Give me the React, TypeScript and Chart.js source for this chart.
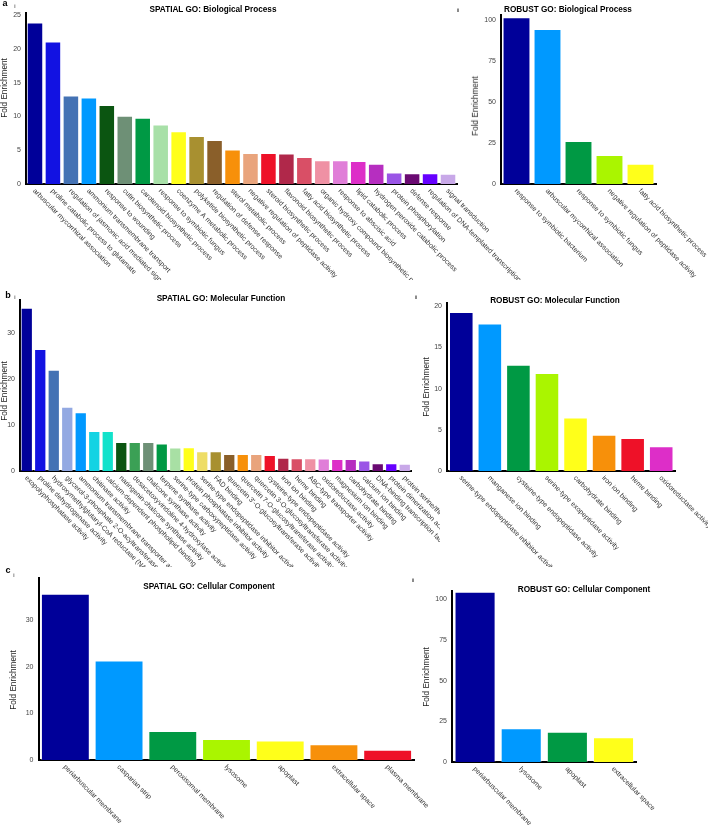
import React, { useEffect, useRef } from "react";
import { Chart, registerables } from "chart.js";
Chart.register(...registerables);

const FONT = "'Liberation Sans', Arial, Helvetica, sans-serif";

// ---------- a(i) SPATIAL GO: Biological Process ----------
const bpSpatialLabels = [
  "arbuscular mycorrhizal association",
  "proline catabolic process to glutamate",
  "regulation of jasmonic acid mediated signaling",
  "ammonium transmembrane transport",
  "response to wounding",
  "cutin biosynthetic process",
  "carotenoid biosynthetic process",
  "response to symbiotic fungus",
  "coenzyme A metabolic process",
  "polyketide biosynthetic process",
  "regulation of defense response",
  "sterol metabolic process",
  "negative regulation of peptidase activity",
  "steroid biosynthetic process",
  "flavonoid biosynthetic process",
  "fatty acid biosynthetic process",
  "organic hydroxy compound biosynthetic process",
  "response to abscisic acid",
  "lipid catabolic process",
  "hydrogen peroxide catabolic process",
  "protein phosphorylation",
  "defense response",
  "regulation of DNA-templated transcription",
  "signal transduction",
];
const bpSpatialValues = [23.9, 21.1, 13.1, 12.8, 11.7, 10.1, 9.8, 8.8, 7.8, 7.1, 6.5, 5.1, 4.6, 4.6, 4.5, 4.0, 3.5, 3.5, 3.4, 3.0, 1.7, 1.6, 1.6, 1.5];
const bpSpatialColors = ["#000099", "#1212E2", "#4472B4", "#0099FF", "#0B5511", "#6E9076", "#009944", "#A8E0A8", "#FFFF1A", "#A89030", "#8A5F2A", "#F7900A", "#E9A47C", "#EE1128", "#B0284A", "#D94F66", "#EF91A4", "#E07ED8", "#DD2EC8", "#B62EC0", "#9A55E6", "#6A0A72", "#6600FF", "#C8A8E8"];

// ---------- a(ii) ROBUST GO: Biological Process ----------
const bpRobustLabels = [
  "response to symbiotic bacterium",
  "arbuscular mycorrhizal association",
  "response to symbiotic fungus",
  "negative regulation of peptidase activity",
  "fatty acid biosynthetic process",
];
const bpRobustValues = [101.8, 94.7, 26.3, 17.7, 12.4];
const bpRobustColors = ["#000099", "#0099FF", "#009944", "#AAF500", "#FFFF1A"];

// ---------- b(i) SPATIAL GO: Molecular Function ----------
const mfSpatialLabels = [
  "exopolyphosphatase activity",
  "proline dehydrogenase activity",
  "hydroxymethylglutaryl-CoA reductase (NADPH) activity",
  "glycerol-3-phosphate 2-O-acyltransferase activity",
  "ammonium transmembrane transporter activity",
  "chitinase activity",
  "calcium-dependent phospholipid binding",
  "naringenin-chalcone synthase activity",
  "desacetoxyvindoline 4-hydroxylase activity",
  "chalcone synthase activity",
  "terpene synthase activity",
  "serine-type carboxypeptidase activity",
  "protein phosphatase inhibitor activity",
  "serine-type endopeptidase inhibitor activity",
  "FAD binding",
  "quercetin 3'-O-glucosyltransferase activity",
  "quercetin 7-O-glucosyltransferase activity",
  "quercetin 3-O-glucosyltransferase activity",
  "cysteine-type endopeptidase activity",
  "iron ion binding",
  "heme binding",
  "ABC-type transporter activity",
  "oxidoreductase activity",
  "magnesium ion binding",
  "carbohydrate binding",
  "calcium ion binding",
  "DNA-binding transcription factor activity",
  "protein dimerization activity",
  "protein serine/threonine kinase activity",
];
const mfSpatialValues = [35.6, 26.6, 22.1, 14.0, 12.8, 8.7, 8.7, 6.3, 6.3, 6.3, 6.0, 5.1, 5.2, 4.3, 4.3, 3.7, 3.7, 3.7, 3.5, 2.9, 2.8, 2.8, 2.7, 2.6, 2.6, 2.3, 1.7, 1.7, 1.6];
const mfSpatialColors = ["#000099", "#1212E2", "#4472B4", "#93A9E2", "#0099FF", "#14D3E3", "#12E2CB", "#0B5511", "#3BA055", "#6E9076", "#009944", "#A8E0A4", "#FFFF1A", "#EEDD66", "#A89030", "#8A5F2A", "#F7900A", "#E9A47C", "#EE1128", "#B0284A", "#D94F66", "#EF91A4", "#E07ED8", "#DD2EC8", "#B62EC0", "#9A55E6", "#6A0A72", "#6600FF", "#C8A8E8"];

// ---------- b(ii) ROBUST GO: Molecular Function ----------
const mfRobustLabels = [
  "serine-type endopeptidase inhibitor activity",
  "manganese ion binding",
  "cysteine-type endopeptidase activity",
  "serine-type exopeptidase activity",
  "carbohydrate binding",
  "iron ion binding",
  "heme binding",
  "oxidoreductase activity",
];
const mfRobustValues = [19.3, 17.9, 12.9, 11.9, 6.5, 4.4, 4.0, 3.0];
const mfRobustColors = ["#000099", "#0099FF", "#009944", "#AAF500", "#FFFF1A", "#F7900A", "#EE1128", "#DD2EC8"];

// ---------- c(i) SPATIAL GO: Cellular Component ----------
const ccSpatialLabels = ["periarbuscular membrane", "casparian strip", "peroxisomal membrane", "lysosome", "apoplast", "extracellular space", "plasma membrane"];
const ccSpatialValues = [35.6, 21.3, 6.2, 4.5, 4.2, 3.35, 2.2];
const ccSpatialColors = ["#000099", "#0099FF", "#009944", "#AAF500", "#FFFF1A", "#F7900A", "#EE1128"];

// ---------- c(ii) ROBUST GO: Cellular Component ----------
const ccRobustLabels = ["periarbuscular membrane", "lysosome", "apoplast", "extracellular space"];
const ccRobustValues = [104.5, 20.7, 18.6, 15.2];
const ccRobustColors = ["#000099", "#0099FF", "#009944", "#FFFF1A"];

const rotatedLabels = {
  id: "rotatedLabels",
  afterDraw(chart: any, _args: any, opts: any) {
    const { ctx } = chart;
    const xs = chart.scales.x;
    const bottom = chart.chartArea.bottom;
    ctx.save();
    ctx.font = `${opts.size || 7}px ${FONT}`;
    ctx.fillStyle = "#333";
    ctx.textAlign = "left";
    ctx.textBaseline = "middle";
    (chart.data.labels as string[]).forEach((lab, i) => {
      const x = xs.getPixelForValue(i);
      ctx.save();
      ctx.translate(x - 1, bottom + 6);
      ctx.rotate(Math.PI / 4);
      ctx.fillText(lab, 0, 0);
      ctx.restore();
    });
    ctx.restore();
  },
};

type PanelProps = {
  box: { x: number; y: number; w: number; h: number };
  area: { L: number; T: number; R: number; B: number };
  labels: string[];
  values: number[];
  colors: string[];
  yMax: number;
  step: number;
  barPct: number;
};

function Panel({ box, area, labels, values, colors, yMax, step, barPct }: PanelProps) {
  const ref = useRef<HTMLCanvasElement | null>(null);
  useEffect(() => {
    if (!ref.current) return;
    const chart = new Chart(ref.current, {
      type: "bar",
      data: {
        labels,
        datasets: [
          {
            data: values,
            backgroundColor: colors,
            borderColor: "rgba(255,255,255,0.35)",
            borderWidth: 1,
            barPercentage: barPct,
            categoryPercentage: 1,
          },
        ],
      },
      options: {
        responsive: false,
        animation: false,
        devicePixelRatio: 1,
        layout: {
          padding: { top: area.T - box.y, right: box.x + box.w - area.R, left: 0, bottom: 0 },
        },
        plugins: {
          legend: { display: false },
          tooltip: { enabled: false },
          title: { display: false },
          rotatedLabels: { size: 7 },
        } as any,
        scales: {
          x: {
            grid: { display: false, drawTicks: false },
            ticks: { display: false },
            border: { display: true, color: "#000", width: 2 },
            afterFit: (s: any) => {
              s.height = box.y + box.h - area.B;
            },
          },
          y: {
            min: 0,
            max: yMax,
            grid: { display: false, drawTicks: false },
            border: { display: true, color: "#000", width: 2 },
            ticks: {
              stepSize: step,
              includeBounds: false,
              padding: 5,
              color: "#444",
              font: { size: 7, family: FONT },
            },
            afterFit: (s: any) => {
              s.width = area.L - box.x;
            },
          },
        },
      },
      plugins: [rotatedLabels],
    });
    return () => chart.destroy();
  }, []);
  return (
    <canvas
      ref={ref}
      width={box.w}
      height={box.h}
      style={{ position: "absolute", left: box.x, top: box.y, width: box.w, height: box.h }}
    />
  );
}

function Txt({ x, y, children, size = 8, bold = false, rotate = false }: any) {
  return (
    <div
      style={{
        position: "absolute",
        left: x,
        top: y,
        transform: `translate(-50%, -50%)${rotate ? " rotate(-90deg)" : ""}`,
        fontFamily: FONT,
        fontSize: size,
        fontWeight: bold ? "bold" : "normal",
        color: bold ? "#000" : "#222",
        whiteSpace: "nowrap",
        lineHeight: 1,
      }}
    >
      {children}
    </div>
  );
}

export default function App() {
  return (
    <div style={{ position: "absolute", left: 0, top: 0, width: 708, height: 825, background: "#fff", overflow: "hidden" }}>
      <Panel box={{ x: 0, y: 0, w: 540, h: 280 }} area={{ L: 26, T: 13, R: 457, B: 184 }} labels={bpSpatialLabels} values={bpSpatialValues} colors={bpSpatialColors} yMax={25.3} step={5} barPct={0.92} />
      <Panel box={{ x: 440, y: 0, w: 268, h: 290 }} area={{ L: 501, T: 15, R: 656, B: 184 }} labels={bpRobustLabels} values={bpRobustValues} colors={bpRobustColors} yMax={103.2} step={25} barPct={0.9} />
      <Panel box={{ x: 0, y: 285, w: 440, h: 282 }} area={{ L: 20, T: 300, R: 411.5, B: 471 }} labels={mfSpatialLabels} values={mfSpatialValues} colors={mfSpatialColors} yMax={37.3} step={10} barPct={0.91} />
      <Panel box={{ x: 400, y: 285, w: 308, h: 282 }} area={{ L: 447, T: 303, R: 675.5, B: 471 }} labels={mfRobustLabels} values={mfRobustValues} colors={mfRobustColors} yMax={20.4} step={5} barPct={0.86} />
      <Panel box={{ x: 0, y: 560, w: 440, h: 265 }} area={{ L: 38.5, T: 578, R: 414.5, B: 760 }} labels={ccSpatialLabels} values={ccSpatialValues} colors={ccSpatialColors} yMax={39} step={10} barPct={0.91} />
      <Panel box={{ x: 400, y: 560, w: 308, h: 265 }} area={{ L: 452, T: 591, R: 636.6, B: 762 }} labels={ccRobustLabels} values={ccRobustValues} colors={ccRobustColors} yMax={105} step={25} barPct={0.89} />

      {/* panel letters */}
      <Txt x={5} y={3} size={9} bold>a</Txt>
      <Txt x={15} y={6} size={6}>i</Txt>
      <Txt x={458} y={10} size={6}>ii</Txt>
      <Txt x={8} y={295} size={9} bold>b</Txt>
      <Txt x={15} y={297} size={6}>i</Txt>
      <Txt x={416} y={297} size={6}>ii</Txt>
      <Txt x={8} y={570} size={9} bold>c</Txt>
      <Txt x={14} y={575} size={6}>i</Txt>
      <Txt x={413} y={580} size={6}>ii</Txt>

      {/* titles */}
      <Txt x={213} y={10} size={8.2} bold>SPATIAL GO: Biological Process</Txt>
      <Txt x={568} y={10} size={8.2} bold>ROBUST GO: Biological Process</Txt>
      <Txt x={221} y={299} size={8.2} bold>SPATIAL GO: Molecular Function</Txt>
      <Txt x={555} y={301} size={8.2} bold>ROBUST GO: Molecular Function</Txt>
      <Txt x={209} y={587} size={8.2} bold>SPATIAL GO: Cellular Component</Txt>
      <Txt x={584} y={590} size={8.2} bold>ROBUST GO: Cellular Component</Txt>

      {/* y axis titles */}
      <Txt x={5} y={88} size={8.2} rotate>Fold Enrichment</Txt>
      <Txt x={476} y={106} size={8.2} rotate>Fold Enrichment</Txt>
      <Txt x={5} y={391} size={8.2} rotate>Fold Enrichment</Txt>
      <Txt x={427} y={387} size={8.2} rotate>Fold Enrichment</Txt>
      <Txt x={14} y={680} size={8.2} rotate>Fold Enrichment</Txt>
      <Txt x={427} y={677} size={8.2} rotate>Fold Enrichment</Txt>
    </div>
  );
}
